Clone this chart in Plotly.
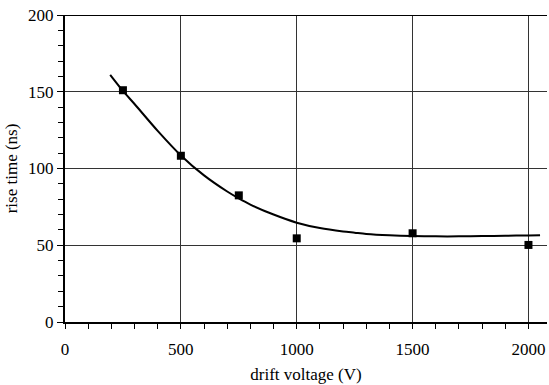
import plotly.graph_objects as go

# measured points
voltage = [250, 500, 750, 1000, 1500, 2000]
rise_time = [151, 108.3, 82.5, 54.5, 57.8, 50.2]

# trend curve
curve_x = [195, 250, 300, 400, 500, 600, 700, 750, 800, 900, 1000, 1100, 1200, 1250,
           1300, 1400, 1500, 1600, 1700, 1800, 1900, 2000, 2050]
curve_y = [161, 150.5, 142, 124.5, 108.5, 95.5, 85, 80.5, 76.5, 70, 64.7, 61.2, 59, 58.2,
           57.4, 56.5, 56, 55.8, 55.8, 56, 56.2, 56.4, 56.5]

x_ticks = [0, 500, 1000, 1500, 2000]
y_ticks = [0, 50, 100, 150, 200]

font = dict(family="Liberation Serif, Times New Roman, serif", size=17, color="black")

fig = go.Figure()
fig.add_trace(go.Scatter(x=curve_x, y=curve_y, mode="lines", line=dict(color="black", width=2, shape="spline", smoothing=0.8),
                         showlegend=False, hoverinfo="skip"))
fig.add_trace(go.Scatter(x=voltage, y=rise_time, mode="markers",
                         marker=dict(symbol="square", size=8, color="black"), showlegend=False))

fig.update_layout(
    width=549, height=385,
    margin=dict(l=65, r=2, t=15, b=63),
    paper_bgcolor="white", plot_bgcolor="white",
    font=font,
    xaxis=dict(range=[0, 2080], tickvals=x_ticks, ticktext=[str(v) for v in x_ticks],
               showgrid=True, gridcolor="#333333", gridwidth=1, zeroline=False,
               showline=True, linecolor="black", linewidth=2,
               ticks="outside", ticklen=5, tickcolor="black",
               ticklabelstandoff=6,
               minor=dict(dtick=100, ticks="outside", ticklen=5, tickcolor="black", showgrid=False),
               title=dict(text="drift voltage (V)", standoff=10, font=font),
               tickfont=font),
    yaxis=dict(range=[0, 200], tickvals=y_ticks, ticktext=[str(v) for v in y_ticks],
               showgrid=True, gridcolor="#333333", gridwidth=1, zeroline=False,
               showline=True, linecolor="black", linewidth=2,
               ticks="outside", ticklen=6, tickcolor="black",
               minor=dict(dtick=10, ticks="outside", ticklen=5, tickcolor="black", showgrid=False),
               title=dict(text="rise time (ns)", standoff=6, font=font),
               tickfont=font),
)
fig.add_shape(type="line", xref="paper", yref="y", x0=0, x1=1, y0=200, y1=200,
              line=dict(color="black", width=2))

fig.write_html("out.html")
